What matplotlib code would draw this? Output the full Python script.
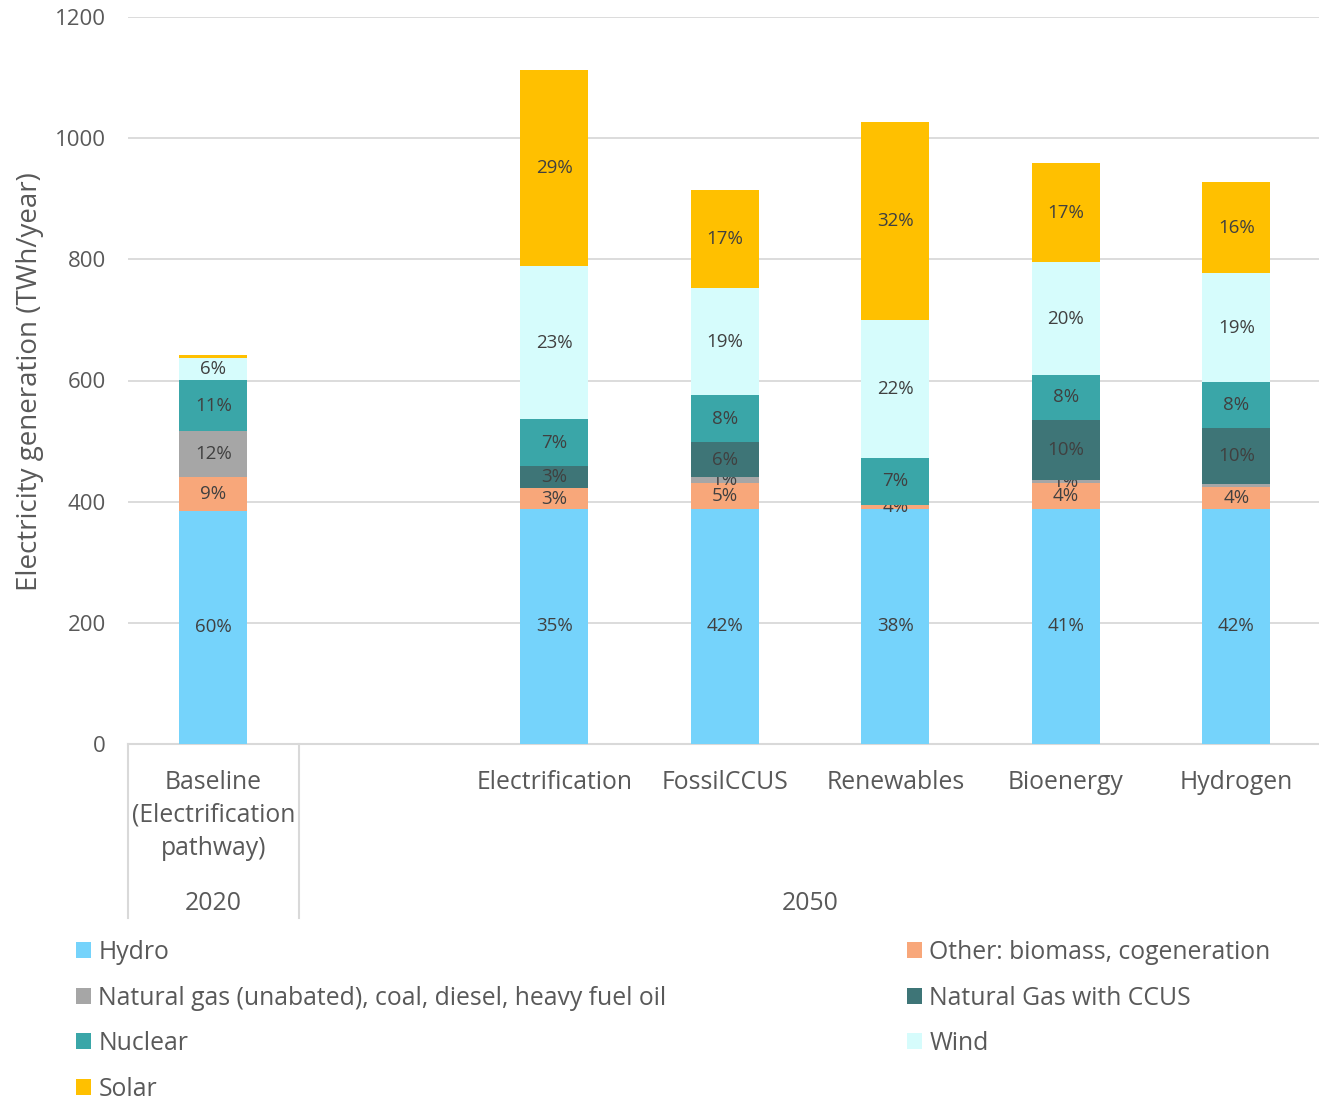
import numpy as np
import matplotlib
matplotlib.use('Agg')
from matplotlib import pyplot as plt
from matplotlib.patches import Patch
import matplotlib.transforms as mtransforms

plt.rcParams['font.family'] = ['Open Sans', 'DejaVu Sans']

# categories (slot 1 is left blank between 2020 and 2050)
positions = [0, 2, 3, 4, 5, 6]
scenarios = ['Baseline\n(Electrification\npathway)', 'Electrification', 'FossilCCUS',
             'Renewables', 'Bioenergy', 'Hydrogen']

# TWh/year
hydro   = [385, 388, 388, 388, 388, 388]
other   = [55, 34, 43, 7, 42, 36]
gas     = [76, 0, 10, 0, 5, 5]
ccus    = [0, 37, 57, 0, 100, 92]
nuclear = [85, 77, 78, 77, 74, 76]
wind    = [36, 253, 176, 228, 186, 180]
solar   = [5, 323, 162, 326, 164, 150]

# shares written on the segments
hydro_lbl   = ['60%', '35%', '42%', '38%', '41%', '42%']
other_lbl   = ['9%', '3%', '5%', '4%', '4%', '4%']
gas_lbl     = ['12%', '', '1%', '', '1%', '']
ccus_lbl    = ['', '3%', '6%', '', '10%', '10%']
nuclear_lbl = ['11%', '7%', '8%', '7%', '8%', '8%']
wind_lbl    = ['6%', '23%', '19%', '22%', '20%', '19%']
solar_lbl   = ['', '29%', '17%', '32%', '17%', '16%']

series = [
    ('Hydro', hydro, hydro_lbl, '#75D3FB'),
    ('Other: biomass, cogeneration', other, other_lbl, '#F8A77A'),
    ('Natural gas (unabated), coal, diesel, heavy fuel oil', gas, gas_lbl, '#A6A6A6'),
    ('Natural Gas with CCUS', ccus, ccus_lbl, '#3E7577'),
    ('Nuclear', nuclear, nuclear_lbl, '#3AA6A8'),
    ('Wind', wind, wind_lbl, '#D6FCFC'),
    ('Solar', solar, solar_lbl, '#FFC000'),
]

fig = plt.figure(figsize=(13.19, 11.02), dpi=100)
ax = fig.add_axes([128/1319, 1-744/1102, 1-128/1319, 727/1102])

bottom = np.zeros(len(positions))
handles = {}
for name, vals, lbls, col in series:
    vals = np.array(vals, dtype=float)
    bars = ax.bar(positions, vals, width=0.4, bottom=bottom, color=col, zorder=3, label=name)
    ax.bar_label(bars, labels=lbls, label_type='center', fontsize=13.5, color='#404040')
    bottom += vals
    handles[name] = Patch(facecolor=col, edgecolor='none')

ax.set_ylim(0, 1200)
ax.set_xlim(-0.5, 6.485)
ax.set_yticks(np.arange(0, 1201, 200))
ax.yaxis.grid(True, color='#D9D9D9', linewidth=1.3, zorder=0)
ax.set_axisbelow(True)
for s in ['top', 'right', 'left']:
    ax.spines[s].set_visible(False)
ax.spines['bottom'].set_color('#D9D9D9')
ax.spines['bottom'].set_linewidth(1.5)
ax.tick_params(axis='y', length=0, labelsize=16, labelcolor='#595959', pad=16)
ax.set_ylabel('Electricity generation (TWh/year)', fontsize=20, color='#595959')
ax.yaxis.set_label_coords(-0.0705, 0.498)

ax.set_xticks(positions)
ax.set_xticklabels(scenarios, fontsize=17.8, color='#595959', linespacing=1.43, va='top')
ax.tick_params(axis='x', length=0, pad=18.5)

# second level of the category axis
trans = mtransforms.blended_transform_factory(ax.transData, ax.transAxes)
ax.text(0, -159/727, '2020', transform=trans, ha='center', va='center', fontsize=17.8, color='#595959')
ax.text(3.5, -159/727, '2050', transform=trans, ha='center', va='center', fontsize=17.8, color='#595959')
for xs in [-0.5, 0.5]:
    ax.plot([xs, xs], [0, -174/727], transform=trans, color='#D9D9D9', linewidth=1.5, clip_on=False)

left_names = ['Hydro', 'Natural gas (unabated), coal, diesel, heavy fuel oil', 'Nuclear', 'Solar']
right_names = ['Other: biomass, cogeneration', 'Natural Gas with CCUS', 'Wind']
leg_kw = dict(frameon=False, fontsize=17.8, labelcolor='#595959', handlelength=0.6,
              handleheight=0.6, handletextpad=0.3, labelspacing=0.83, borderpad=0, borderaxespad=0,
              loc='upper left')
l1 = fig.legend([handles[n] for n in left_names], left_names,
                bbox_to_anchor=(76/1319, 1-940/1102), **leg_kw)
l2 = fig.legend([handles[n] for n in right_names], right_names,
                bbox_to_anchor=(907/1319, 1-940/1102), **leg_kw)

fig.savefig('out.png', dpi=100)
plt.close(fig)
